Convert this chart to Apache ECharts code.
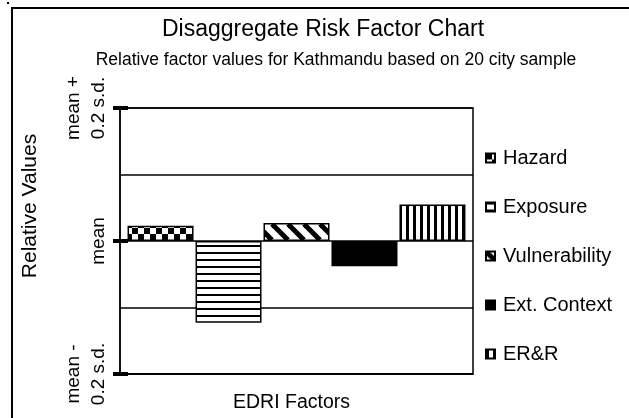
<!DOCTYPE html>
<html>
<head>
<meta charset="utf-8">
<script src="https://cdn.jsdelivr.net/npm/echarts@6/dist/echarts.min.js"></script>
<style>
  html, body { margin: 0; padding: 0; background: #fff; }
  #chart { width: 629px; height: 418px; }
</style>
</head>
<body>
<div id="chart"></div>
<script>
// data (units: s.d. relative to the 20 city mean)
const factors = ['Hazard', 'Exposure', 'Vulnerability', 'Ext. Context', 'ER&R'];
const values = [0.023, -0.123, 0.027, -0.038, 0.055];
const tickValues = [-0.2, 0, 0.2];
const tickLabels = ['mean -\n0.2 s.d.', 'mean', 'mean +\n0.2 s.d.'];

const FONT = 'Arial, "Liberation Sans", sans-serif';

// small canvas tiles for the hatch fills
function tile(w, h, draw) {
  const c = document.createElement('canvas');
  c.width = w;
  c.height = h;
  const ctx = c.getContext('2d');
  ctx.fillStyle = '#fff';
  ctx.fillRect(0, 0, w, h);
  ctx.fillStyle = '#000';
  ctx.strokeStyle = '#000';
  draw(ctx, w, h);
  return { image: c, repeat: 'repeat' };
}

const fills = [
  // checkers
  tile(12, 12, (ctx) => {
    ctx.fillRect(0, 0, 6, 6);
    ctx.fillRect(6, 6, 6, 6);
  }),
  // horizontal lines
  tile(4, 7, (ctx, w) => {
    ctx.fillRect(0, 0, w, 2);
  }),
  // diagonal stripes
  tile(16, 16, (ctx) => {
    ctx.lineWidth = 5;
    for (let k = -16; k <= 16; k += 16) {
      ctx.beginPath();
      ctx.moveTo(k, 0);
      ctx.lineTo(k + 16, 16);
      ctx.stroke();
    }
  }),
  '#000',
  // vertical lines
  tile(7, 4, (ctx, w, h) => {
    ctx.fillRect(0, 0, 3, h);
  })
];

const chart = echarts.init(document.getElementById('chart'));

const series = factors.map((name, i) => ({
  name: name,
  type: 'bar',
  data: [values[i]],
  barWidth: 66,
  barGap: '3%',
  itemStyle: {
    color: fills[i],
    borderColor: '#000',
    borderWidth: 1.5
  }
}));

const labelFor = (v) => {
  const i = tickValues.findIndex((t) => Math.abs(t - v) < 1e-9);
  return i < 0 ? '' : tickLabels[i];
};

chart.setOption({
  animation: false,
  textStyle: { fontFamily: FONT },
  title: [
    {
      text: 'Disaggregate Risk Factor Chart',
      left: 318,
      top: 13,
      textAlign: 'center',
      textStyle: { fontFamily: FONT, fontSize: 23, fontWeight: 'normal', color: '#000' }
    },
    {
      text: 'Relative factor values for Kathmandu based on 20 city sample',
      left: 331,
      top: 46,
      textAlign: 'center',
      textStyle: { fontFamily: FONT, fontSize: 17.5, fontWeight: 'normal', color: '#000' }
    }
  ],
  legend: {
    orient: 'vertical',
    left: 485,
    top: 148,
    padding: 0,
    itemGap: 29,
    itemWidth: 9,
    itemHeight: 9,
    icon: 'rect',
    data: factors,
    textStyle: { fontFamily: FONT, fontSize: 20, color: '#000', padding: [0, 0, 0, 3] }
  },
  grid: {
    left: 120,
    top: 108,
    right: 156,
    bottom: 43,
    show: true,
    borderColor: '#000',
    borderWidth: 1.5
  },
  xAxis: {
    type: 'category',
    data: [''],
    name: 'EDRI Factors',
    nameLocation: 'middle',
    nameGap: 19,
    nameTextStyle: { fontFamily: FONT, fontSize: 19.5, color: '#000', padding: [0, 10, 0, 0] },
    axisLine: { onZero: false, lineStyle: { color: '#000', width: 1.5 } },
    axisTick: { show: false },
    axisLabel: { show: false }
  },
  yAxis: [
    {
      type: 'value',
      min: -0.2,
      max: 0.2,
      interval: 0.1,
      name: 'Relative Values',
      nameLocation: 'middle',
      nameRotate: 90,
      nameGap: 79,
      nameTextStyle: { fontFamily: FONT, fontSize: 21, color: '#000', padding: [0, 0, 0, 70] },
      axisLine: { show: true, lineStyle: { color: '#000', width: 1.5 } },
      axisTick: { show: false },
      axisLabel: {
        rotate: 90,
        margin: 9,
        fontFamily: FONT,
        fontSize: 19,
        lineHeight: 25,
        color: '#000',
        formatter: labelFor
      },
      splitLine: { show: true, lineStyle: { color: '#000', width: 1.5 } }
    },
    {
      type: 'value',
      min: -0.2,
      max: 0.2,
      interval: 0.2,
      position: 'left',
      axisLine: { show: false },
      axisTick: { show: true, length: 7, lineStyle: { color: '#000', width: 4 } },
      axisLabel: { show: false },
      splitLine: { show: false }
    },
    {
      type: 'value',
      min: -0.2,
      max: 0.2,
      interval: 0.2,
      position: 'left',
      axisLine: { show: false },
      axisTick: { show: true, inside: true, length: 8, lineStyle: { color: '#000', width: 4 } },
      axisLabel: { show: false },
      splitLine: { show: false }
    }
  ],
  series: series,
  graphic: [
    {
      type: 'rect',
      shape: { x: 12, y: 8, width: 700, height: 500 },
      style: { fill: 'none', stroke: '#000', lineWidth: 2 },
      silent: true
    },
    {
      type: 'rect',
      shape: { x: 7, y: 2, width: 2, height: 2 },
      style: { fill: '#000' },
      silent: true
    }
  ]
});
</script>
</body>
</html>
